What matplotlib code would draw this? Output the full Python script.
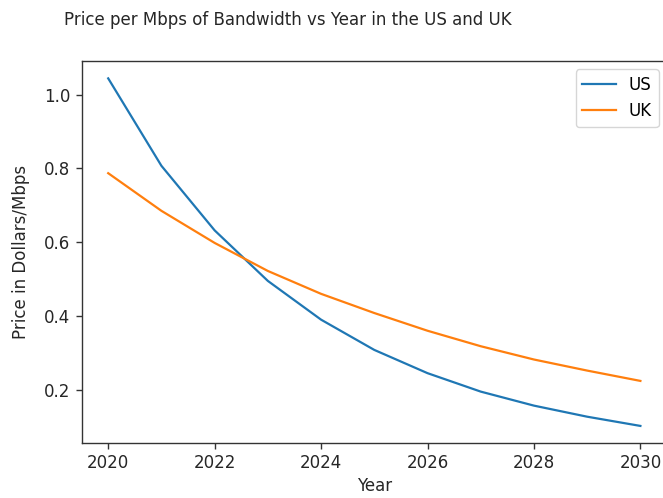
import matplotlib
matplotlib.use("Agg")
import matplotlib.pyplot as plt

# 数据
years = [2020, 2021, 2022, 2023, 2024, 2025, 2026, 2027, 2028, 2029, 2030]
us_price = [1.044, 0.807, 0.632, 0.495, 0.390, 0.308, 0.245, 0.195, 0.157, 0.127, 0.102]
uk_price = [0.787, 0.685, 0.598, 0.522, 0.460, 0.408, 0.360, 0.318, 0.282, 0.252, 0.224]

plt.rcParams['font.size'] = 12

fig = plt.figure(figsize=(6.63, 4.98), dpi=100)
# 右侧被裁掉一点，和原图一样
ax = fig.add_axes([81.6 / 663, 1 - 443.3 / 498, (667 - 81.6) / 663, (443.3 - 61) / 498])

ax.plot(years, us_price, color='#1f77b4', lw=1.6, label='US')
ax.plot(years, uk_price, color='#ff7f0e', lw=1.6, label='UK')

ax.set_xticks([2020, 2022, 2024, 2026, 2028, 2030])
ax.set_yticks([0.2, 0.4, 0.6, 0.8, 1.0])
ax.tick_params(labelsize=12, length=4.5, width=1.0, colors='#333333', labelcolor='#262626')
for s in ax.spines.values():
    s.set_linewidth(1.0)
    s.set_color('#333333')

ax.set_xlabel('Year', fontsize=12, color='#262626', labelpad=3)
ax.set_ylabel('Price in Dollars/Mbps', fontsize=12, color='#262626')
ax.yaxis.set_label_coords(-(81.6 - 30) / (667 - 81.6), 0.5)

ax.legend(loc='upper right', fontsize=12)

fig.text(287.5 / 663, 1 - 20 / 498, 'Price per Mbps of Bandwidth vs Year in the US and UK',
         ha='center', va='center', fontsize=12, color='#262626')

fig.savefig('out.png', dpi=100)
